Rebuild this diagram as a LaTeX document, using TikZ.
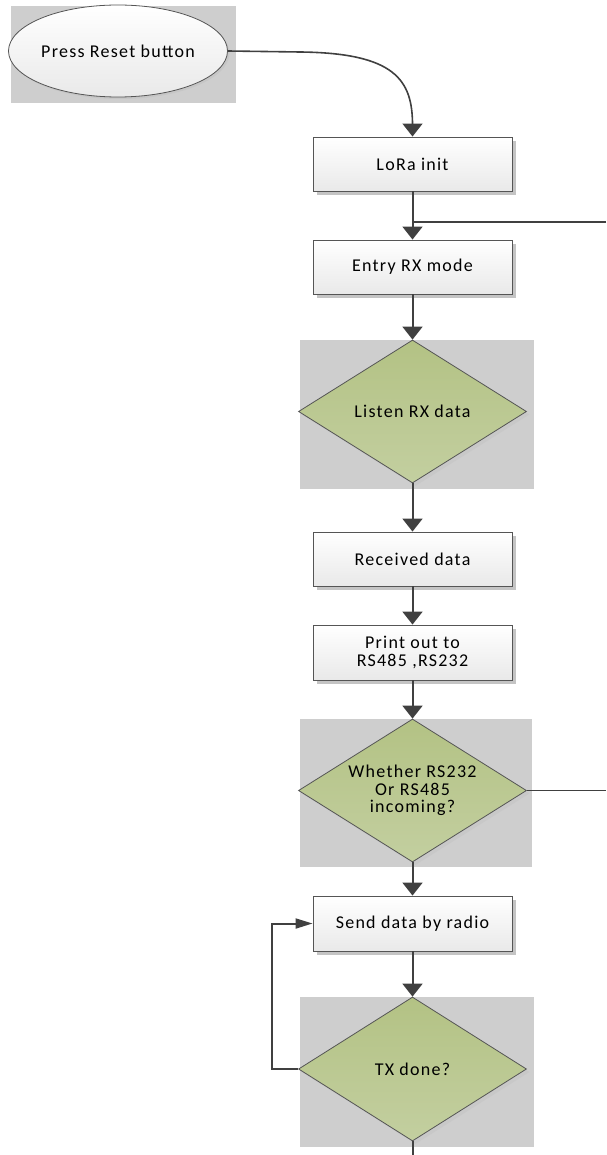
\documentclass[tikz,border=0pt]{standalone}
\usepackage{fontspec}
\setmainfont{Carlito}[LetterSpace=7]
\usetikzlibrary{arrows.meta,shapes.geometric,shadows}
\definecolor{bggray}{HTML}{CECECE}
\definecolor{dtop}{HTML}{B3C284}
\definecolor{dbot}{HTML}{C3CFA0}
\definecolor{boxbot}{HTML}{E9E9E9}
\definecolor{edge}{HTML}{555555}
\definecolor{linec}{HTML}{404040}
\definecolor{shadowc}{HTML}{C4C4C4}
\begin{document}
\begin{tikzpicture}[x=1pt,y=-1pt,
  every node/.style={font=\fontsize{18}{17.5}\selectfont, text=black, align=center},
  procbox/.style={rectangle, draw=edge, line width=0.9pt, top color=white, bottom color=boxbot,
    minimum width=199pt, minimum height=54pt, inner sep=0pt,
    drop shadow={shadow xshift=4pt, shadow yshift=-4pt, fill=shadowc, opacity=1}},
  decision/.style={diamond, draw=edge, line width=0.8pt, top color=dtop, bottom color=dbot,
    minimum width=228pt, minimum height=143pt, inner sep=0pt, aspect=1.6,
    drop shadow={shadow xshift=3pt, shadow yshift=-3pt, fill=shadowc, opacity=0.6}},
  startnode/.style={ellipse, draw=edge, line width=0.8pt, top color=white, bottom color=boxbot,
    minimum width=219pt, minimum height=92pt, inner sep=0pt,
    drop shadow={shadow xshift=2pt, shadow yshift=-2pt, fill=shadowc, opacity=0.8}},
  flow/.style={draw=linec, line width=2pt, -{Triangle[width=20pt,length=13pt]}},
  loopflow/.style={draw=linec, line width=2pt, -{Triangle[width=10pt,length=17pt]}},
  thinline/.style={draw=linec, line width=1.5pt}
]
\useasboundingbox (0,0) rectangle (606,1155);
% gray backgrounds
\fill[bggray] (11,6) rectangle (236,103);
\fill[bggray] (300,340) rectangle (534,489);
\fill[bggray] (300,719) rectangle (532,867);
\fill[bggray] (300,997) rectangle (534,1147);

\node[startnode] (reset) at (118,51) {Press Reset button};
\node[procbox] (lora) at (412.5,164) {LoRa init};
\node[procbox] (entry) at (412.5,267) {Entry RX mode};
\node[decision] (listen) at (412.5,411.5) {Listen RX data};
\node[procbox] (recv) at (412.5,559) {Received data};
\node[procbox, minimum height=55pt] (print) at (412.5,652.5) {Print out to\\RS485 ,RS232};
\node[decision] (whether) at (412.5,790.5) {Whether RS232\\Or RS485\\incoming?};
\node[procbox, minimum height=55pt] (send) at (412.5,923.5) {Send data by radio};
\node[decision, minimum height=144pt] (tx) at (412.5,1069) {TX done?};

\coordinate (j1) at (412.5,222);
\coordinate (e1) at (606,222);
\coordinate (e2) at (606,790.5);
\coordinate (e3) at (412.5,1155);
\coordinate (lp) at (272,1069);

\draw[flow, line width=1.6pt] (reset.east) -- (300,52) .. controls (395,53) and (412.5,80) .. (412.5,125) -- (lora.north);
\draw[flow] (lora.south) -- (entry.north);
\draw[thinline] (e1) -- (j1);
\draw[flow] (entry.south) -- (listen.north);
\draw[flow] (listen.south) -- (recv.north);
\draw[flow] (recv.south) -- (print.north);
\draw[flow] (print.south) -- (whether.north);
\draw[thinline] (whether.east) -- (e2);
\draw[flow] (whether.south) -- (send.north);
\draw[flow] (send.south) -- (tx.north);
\draw[loopflow] (tx.west) -- (lp) |- (send.west);
\draw[draw=linec, line width=2pt] (tx.south) -- (e3);
\end{tikzpicture}
\end{document}
